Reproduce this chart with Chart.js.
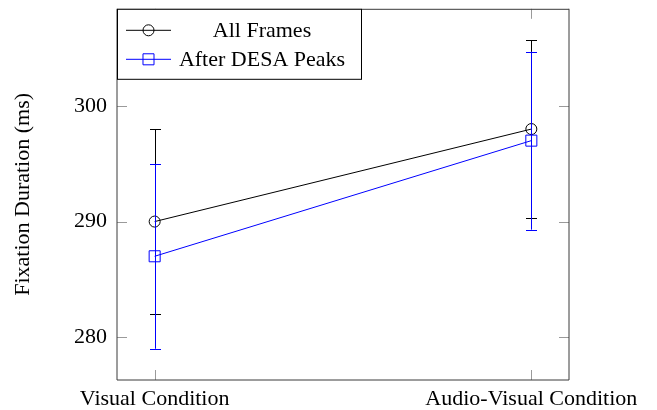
<!DOCTYPE html>
<html>
<head>
<meta charset="utf-8">
<script src="https://cdn.jsdelivr.net/npm/chart.js@4/dist/chart.umd.min.js"></script>
<style>
  html, body { margin: 0; padding: 0; background: #fff; }
  #wrap { width: 657px; height: 410px; }
</style>
</head>
<body>
<div id="wrap"><canvas id="c" width="657" height="410"></canvas></div>
<script>
// ---- data ----
const categories = ['Visual Condition', 'Audio-Visual Condition'];
const seriesNames = ['All Frames', 'After DESA Peaks'];
const allFrames = [290, 298];
const allFramesErr = [8, 7.7];
const afterDesa = [287, 297];
const afterDesaErr = [8, 7.7];
const yTicks = [280, 290, 300];
const yTitle = 'Fixation Duration (ms)';

const FONT = "'Liberation Serif', 'Times New Roman', serif";
const errs = [allFramesErr, afterDesaErr];

const toPoints = arr => arr.map((v, i) => ({ x: i, y: v }));

const framePlugin = {
  id: 'frame',
  beforeDatasetsDraw(chart) {
    const { ctx, chartArea: a, scales } = chart;
    ctx.save();
    ctx.strokeStyle = '#9a9a9a';
    ctx.lineWidth = 1;
    const TL = 10;
    yTicks.forEach(t => {
      const y = Math.round(scales.y.getPixelForValue(t)) + 0.5;
      ctx.beginPath();
      ctx.moveTo(a.left, y); ctx.lineTo(a.left + TL, y);
      ctx.moveTo(a.right, y); ctx.lineTo(a.right - TL, y);
      ctx.stroke();
    });
    categories.forEach((c, i) => {
      const x = Math.round(scales.x.getPixelForValue(i)) + 0.5;
      ctx.beginPath();
      ctx.moveTo(x, a.bottom); ctx.lineTo(x, a.bottom - TL);
      ctx.moveTo(x, a.top); ctx.lineTo(x, a.top + TL);
      ctx.stroke();
    });
    ctx.strokeStyle = '#3a3a3a';
    ctx.lineWidth = 1;
    ctx.beginPath();
    ctx.moveTo(a.left, a.top + 0.5); ctx.lineTo(a.right, a.top + 0.5);
    ctx.moveTo(a.right, a.top); ctx.lineTo(a.right, a.bottom);
    ctx.lineTo(a.left, a.bottom); ctx.lineTo(a.left, a.top);
    ctx.stroke();
    ctx.restore();
  },
  afterDatasetDraw(chart, args) {
    const i = args.index;
    const ds = chart.data.datasets[i];
    const { ctx, scales } = chart;
    const e = errs[i];
    ctx.save();
    ctx.strokeStyle = ds.borderColor;
    ctx.lineWidth = 1;
    ds.data.forEach((p, k) => {
      const x = Math.round(scales.x.getPixelForValue(p.x)) + 0.5;
      const y1 = scales.y.getPixelForValue(p.y + e[k]);
      const y2 = scales.y.getPixelForValue(p.y - e[k]);
      ctx.beginPath();
      ctx.moveTo(x, y1); ctx.lineTo(x, y2);
      ctx.moveTo(x - 5.5, Math.round(y1) + 0.5); ctx.lineTo(x + 5.5, Math.round(y1) + 0.5);
      ctx.moveTo(x - 5.5, Math.round(y2) + 0.5); ctx.lineTo(x + 5.5, Math.round(y2) + 0.5);
      ctx.stroke();
    });
    ctx.restore();
  },
  afterDraw(chart) {
    const { ctx, chartArea: a } = chart;
    const L = a.left, T = a.top, W = 244, H = 70;
    ctx.save();
    ctx.fillStyle = '#fff';
    ctx.fillRect(L, T, W, H);
    ctx.strokeStyle = '#000';
    ctx.lineWidth = 1;
    ctx.strokeRect(L + 0.5, T + 0.5, W, H);
    const rows = [T + 21.5, T + 50.5];
    chart.data.datasets.forEach((ds, i) => {
      const y = rows[i];
      ctx.strokeStyle = ds.borderColor;
      ctx.lineWidth = 1;
      ctx.beginPath();
      ctx.moveTo(L + 9, y); ctx.lineTo(L + 54, y);
      ctx.stroke();
      ctx.fillStyle = 'rgba(0,0,0,0)';
      Chart.helpers.drawPoint(ctx, {
        pointStyle: ds.pointStyle, radius: ds.pointRadius, borderWidth: 1
      }, L + 31.5, y);
      ctx.fillStyle = '#000';
      ctx.font = '22px ' + FONT;
      ctx.textAlign = 'center';
      ctx.textBaseline = 'middle';
      ctx.fillText(ds.label, L + 145, y + 1);
    });
    ctx.restore();
  }
};

new Chart(document.getElementById('c'), {
  type: 'line',
  data: {
    datasets: [
      {
        label: seriesNames[0], data: toPoints(allFrames),
        borderColor: '#000000', backgroundColor: 'transparent',
        borderWidth: 1, pointStyle: 'circle', pointRadius: 5.5,
        pointBorderWidth: 1, pointBackgroundColor: 'transparent',
        pointBorderColor: '#000000', order: 2
      },
      {
        label: seriesNames[1], data: toPoints(afterDesa),
        borderColor: '#0000ff', backgroundColor: 'transparent',
        borderWidth: 1, pointStyle: 'rect', pointRadius: 7.8,
        pointBorderWidth: 1, pointBackgroundColor: 'transparent',
        pointBorderColor: '#0000ff', order: 1
      }
    ]
  },
  options: {
    responsive: false,
    animation: false,
    devicePixelRatio: 1,
    layout: { padding: { top: 7, right: 88, left: 0, bottom: 0 } },
    plugins: { legend: { display: false }, tooltip: { enabled: false } },
    elements: { line: { tension: 0 } },
    scales: {
      x: {
        type: 'linear', min: -0.1, max: 1.1,
        grid: { display: false, drawTicks: false },
        border: { display: false },
        afterBuildTicks: s => { s.ticks = categories.map((c, i) => ({ value: i })); },
        afterFit: s => { s.height = 30; s.paddingLeft = 0; s.paddingRight = 0; },
        ticks: {
          autoSkip: false, maxRotation: 0, minRotation: 0, padding: 6,
          color: '#000', font: { family: FONT, size: 22 },
          callback: v => categories[v]
        }
      },
      y: {
        type: 'linear', min: 276.3, max: 308.4,
        grid: { display: false, drawTicks: false },
        border: { display: false },
        afterBuildTicks: s => { s.ticks = yTicks.map(v => ({ value: v })); },
        afterFit: s => { s.width = 117; s.paddingTop = 0; s.paddingBottom = 0; },
        ticks: {
          padding: 10, color: '#000', font: { family: FONT, size: 22 },
          callback: v => String(v)
        },
        title: {
          display: true, text: yTitle, color: '#000',
          font: { family: FONT, size: 22 }, padding: { top: 10, bottom: 0 }
        }
      }
    }
  },
  plugins: [framePlugin]
});
</script>
</body>
</html>
